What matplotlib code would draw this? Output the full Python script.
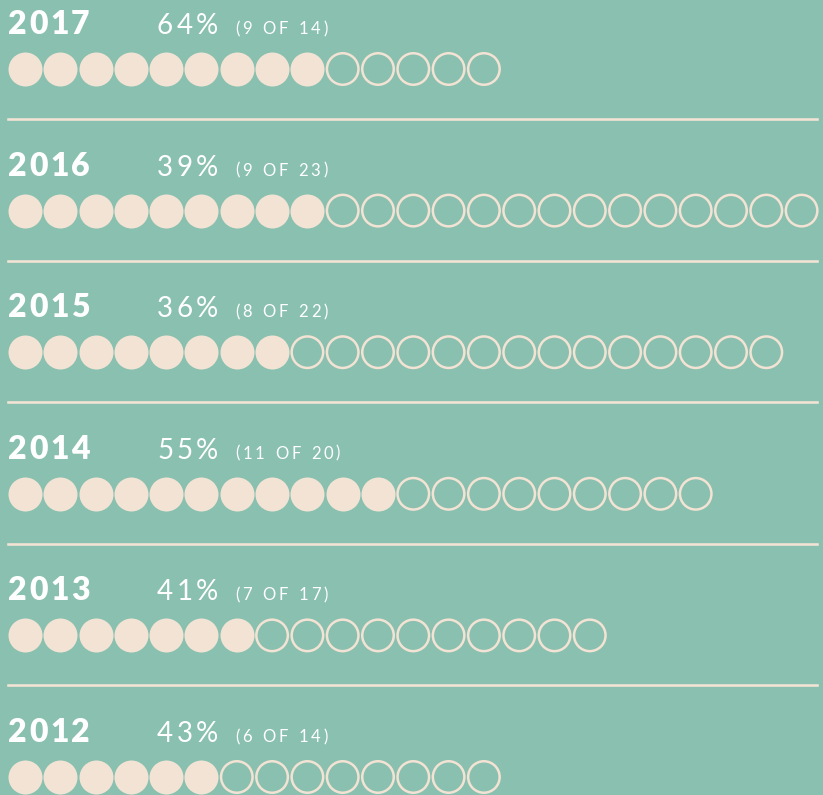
import matplotlib.pyplot as plt
from matplotlib.lines import Line2D

# data
years = ['2017', '2016', '2015', '2014', '2013', '2012']
filled = [9, 9, 8, 11, 7, 6]
totals = [14, 23, 22, 20, 17, 14]

bg = '#8ac0af'
cream = '#f3e3d4'

W, H = 823, 795
fig = plt.figure(figsize=(W / 100, H / 100), dpi=100, facecolor=bg)
ax = fig.add_axes([0, 0, 1, 1])
ax.set_xlim(0, W)
ax.set_ylim(H, 0)
ax.axis('off')
ax.set_facecolor(bg)
renderer = fig.canvas.get_renderer()


def tracked(x, y, s, gap, **kw):
    # draw text char by char with extra letter spacing (in pixels)
    for ch in s:
        t = ax.text(x, y, ch, va='baseline', ha='left', **kw)
        w = t.get_window_extent(renderer).width
        x += w + gap
    return x


row_gap = 141.6
step = 35.3
px = 72 / 100  # pixel -> point

for i, (yr, n, tot) in enumerate(zip(years, filled, totals)):
    y0 = 23 + i * row_gap
    pct = round(100 * n / tot)
    base = y0 + 11
    tracked(8, base, yr, 2.5, color='white', fontsize=23, fontweight='heavy', family='Lato')
    tracked(157, base, f'{pct}%', 3.5, color='white', fontsize=20, fontweight='normal',
            family='Lato')
    tracked(235, base, f'({n} OF {tot})', 3, color='white', fontsize=12,
            fontweight='normal', family='Lato')

    cy = y0 + 46
    xs = [25 + k * step for k in range(tot)]
    ax.scatter(xs[:n], [cy] * n, s=(34 * px) ** 2, color=cream, linewidths=0, zorder=3)
    ax.scatter(xs[n:], [cy] * (tot - n), s=(31.5 * px) ** 2, facecolors='none',
               edgecolors=cream, linewidths=2.5 * px, zorder=3)

    if i < len(years) - 1:
        ly = y0 + 96
        ax.add_line(Line2D([8, 817], [ly, ly], color=cream, lw=2.6 * px))

fig.savefig('out.png', dpi=100, facecolor=bg)
